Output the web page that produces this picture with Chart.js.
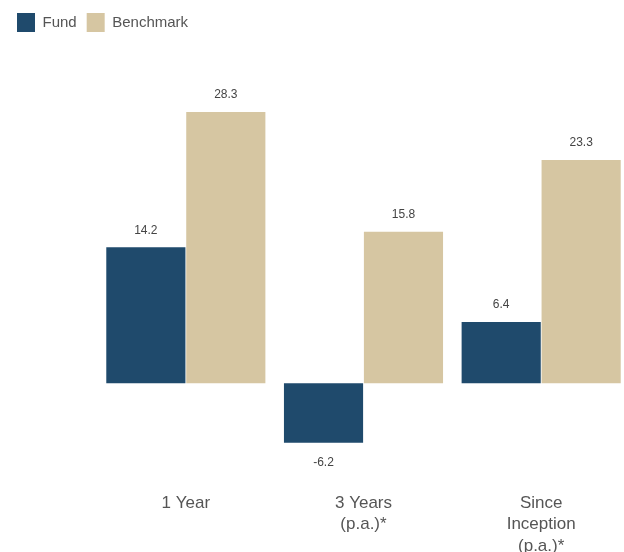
<!DOCTYPE html>
<html>
<head>
<meta charset="utf-8">
<script src="https://cdn.jsdelivr.net/npm/chart.js@4.4.1/dist/chart.umd.min.js"></script>
<style>
  html, body { margin: 0; padding: 0; background: #fff; overflow: hidden; }
  #wrap { position: absolute; left: 0; top: 0; width: 640px; height: 562px; }
</style>
</head>
<body>
<div id="wrap"><canvas id="chart" width="640" height="562"></canvas></div>
<script>
const categories = [["1 Year"], ["3 Years", "(p.a.)*"], ["Since", "Inception", "(p.a.)*"]];
const fundValues = [14.2, -6.2, 6.4];
const benchmarkValues = [28.3, 15.8, 23.3];
const seriesNames = ["Fund", "Benchmark"];
const seriesColors = ["#1f4a6c", "#d6c6a2"];

const FONT = "'Liberation Sans', Arial, Helvetica, sans-serif";

// Writes each bar's value above (or below, when negative) the bar.
const valueLabels = {
  id: "valueLabels",
  afterDatasetsDraw(chart) {
    const ctx = chart.ctx;
    ctx.save();
    ctx.font = "12px " + FONT;
    ctx.fillStyle = "#444";
    ctx.textAlign = "center";
    ctx.textBaseline = "middle";
    chart.data.datasets.forEach((ds, di) => {
      chart.getDatasetMeta(di).data.forEach((bar, i) => {
        const v = ds.data[i];
        const y = v >= 0 ? bar.y - 17 : bar.y + 20;
        ctx.fillText(v.toFixed(1), bar.x, y);
      });
    });
    ctx.restore();
  }
};

new Chart(document.getElementById("chart"), {
  type: "bar",
  data: {
    labels: categories,
    datasets: [
      { label: seriesNames[0], data: fundValues, backgroundColor: seriesColors[0] },
      { label: seriesNames[1], data: benchmarkValues, backgroundColor: seriesColors[1] }
    ]
  },
  options: {
    responsive: false,
    animation: false,
    layout: { padding: { left: 7, right: 10, top: 3, bottom: 0 } },
    datasets: { bar: { categoryPercentage: 0.9, barPercentage: 0.99, borderWidth: 0 } },
    plugins: {
      legend: {
        position: "top",
        align: "start",
        labels: {
          boxWidth: 18,
          boxHeight: 19,
          padding: 10,
          color: "#555",
          font: { family: FONT, size: 15 }
        }
      },
      tooltip: { enabled: false }
    },
    scales: {
      x: {
        grid: { display: false },
        border: { display: false },
        ticks: {
          color: "#555",
          padding: 5,
          maxRotation: 0,
          font: { family: FONT, size: 17, lineHeight: 1.27 }
        }
      },
      y: {
        min: -10,
        max: 35.6,
        grid: { display: false },
        border: { display: false },
        ticks: { display: false },
        afterFit(scale) { scale.width = 90; }
      }
    }
  },
  plugins: [valueLabels]
});
</script>
</body>
</html>
